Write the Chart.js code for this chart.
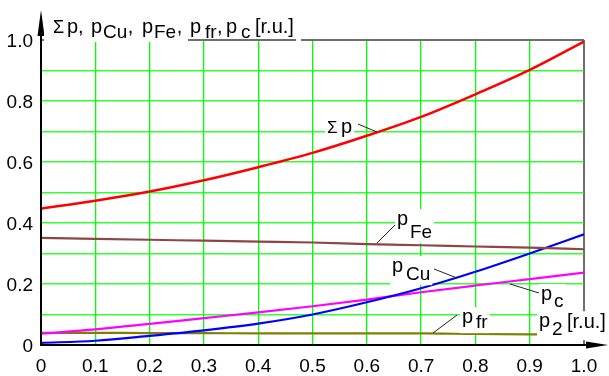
<!DOCTYPE html>
<html>
<head>
<meta charset="utf-8">
<script src="https://cdn.jsdelivr.net/npm/chart.js@4/dist/chart.umd.min.js"></script>
<style>
  html, body { margin: 0; padding: 0; background: #fff; }
  canvas { display: block; }
</style>
</head>
<body>
<canvas id="c" width="609" height="376"></canvas>
<script>
// Output power p2 in relative units
const p2 = [0, 0.1, 0.2, 0.3, 0.4, 0.5, 0.6, 0.7, 0.8, 0.9, 1.0];

// Loss components, relative units
const sumP = [0.447, 0.473, 0.503, 0.540, 0.583, 0.630, 0.686, 0.748, 0.822, 0.902, 0.995];
const pFe  = [0.351, 0.348, 0.345, 0.342, 0.339, 0.336, 0.331, 0.327, 0.323, 0.319, 0.314];
const pCu  = [0.007, 0.014, 0.030, 0.048, 0.070, 0.100, 0.140, 0.186, 0.240, 0.300, 0.363];
const pC   = [0.037, 0.051, 0.069, 0.088, 0.107, 0.127, 0.149, 0.173, 0.195, 0.216, 0.237];
const pFr  = [0.040, 0.040, 0.039, 0.039, 0.038, 0.038, 0.038, 0.038, 0.036, 0.035, 0.035];

// Tick labels
const xTickLabels = ['0', '0.1', '0.2', '0.3', '0.4', '0.5', '0.6', '0.7', '0.8', '0.9', '1.0'];
const yTickLabels = ['0', '0.2', '0.4', '0.6', '0.8', '1.0'];

const FONT = '"Liberation Sans", Arial, sans-serif';
const near = (a, b) => Math.abs(a - b) < 1e-6;
const pts = ys => p2.map((x, i) => ({ x, y: ys[i] }));

function series(data, color, width) {
  return {
    data: pts(data),
    borderColor: color,
    borderWidth: width || 2.2,
    pointRadius: 0,
    cubicInterpolationMode: 'monotone',
    fill: false
  };
}

// Draws a run of text pieces; a piece without x follows the previous one.
// With bg set, a white box is laid under the run first.
function rich(ctx, pieces, bg) {
  let cursor = 0, lastY = 0;
  const laid = pieces.map(p => {
    ctx.font = p.size + 'px ' + FONT;
    const w = ctx.measureText(p.s).width;
    const x = p.x !== undefined ? p.x : cursor + 0.5;
    const y = p.y !== undefined ? p.y : lastY;
    cursor = x + w; lastY = y;
    return { s: p.s, x, y, w, size: p.size };
  });
  if (bg) {
    let l = Infinity, r = -Infinity, t = Infinity, b = -Infinity;
    laid.forEach(p => {
      l = Math.min(l, p.x); r = Math.max(r, p.x + p.w);
      t = Math.min(t, p.y - p.size * 0.74); b = Math.max(b, p.y + p.size * 0.22);
    });
    ctx.fillStyle = '#fff';
    ctx.fillRect(l - 2, t - 1, r - l + 4, b - t + 2);
  }
  ctx.fillStyle = '#000';
  ctx.textAlign = 'left';
  ctx.textBaseline = 'alphabetic';
  laid.forEach(p => {
    ctx.font = p.size + 'px ' + FONT;
    ctx.fillText(p.s, p.x, p.y);
  });
}

function leader(ctx, x1, y1, x2, y2) {
  ctx.beginPath();
  ctx.moveTo(x1, y1);
  ctx.lineTo(x2, y2);
  ctx.stroke();
}

const decorations = {
  id: 'decorations',
  afterDatasetsDraw(chart) {
    const { ctx, chartArea: a } = chart;
    ctx.save();

    // axes
    ctx.strokeStyle = '#000';
    ctx.lineWidth = 2;
    ctx.beginPath();
    ctx.moveTo(a.left - 1, a.bottom);
    ctx.lineTo(598, a.bottom);
    ctx.moveTo(a.left, a.bottom + 1);
    ctx.lineTo(a.left, 30);
    ctx.stroke();

    // arrow heads
    ctx.fillStyle = '#000';
    ctx.beginPath();
    ctx.moveTo(608, a.bottom);
    ctx.lineTo(586, a.bottom - 3.5);
    ctx.lineTo(586, a.bottom + 3.5);
    ctx.closePath();
    ctx.fill();
    ctx.beginPath();
    ctx.moveTo(a.left, 10);
    ctx.lineTo(a.left - 3.5, 36);
    ctx.lineTo(a.left + 3.5, 36);
    ctx.closePath();
    ctx.fill();

    // axis title, partly masking the top frame line
    ctx.fillStyle = '#fff';
    ctx.fillRect(44, 12, 144, 30);
    ctx.fillRect(296, 38, 5, 4);
    rich(ctx, [
      { s: 'Σ', x: 53, y: 33, size: 18 },
      { s: 'p,', x: 67, y: 33, size: 20 },
      { s: 'p', x: 91, y: 33, size: 20 },
      { s: 'Cu', x: 103, y: 38, size: 19 },
      { s: ',', y: 33, size: 20 },
      { s: 'p', x: 142, y: 33, size: 20 },
      { s: 'Fe', x: 154, y: 38, size: 19 },
      { s: ',', y: 33, size: 20 },
      { s: 'p', x: 190, y: 33, size: 20 },
      { s: 'fr', x: 205, y: 38, size: 19 },
      { s: ',', y: 33, size: 20 },
      { s: 'p', x: 226, y: 33, size: 20 },
      { s: 'c', x: 241, y: 38, size: 19 },
      { s: '[r.u.]', x: 255, y: 33, size: 20 }
    ], false);

    // curve labels
    rich(ctx, [
      { s: 'Σ', x: 327, y: 133, size: 17 },
      { s: 'p', x: 341, y: 133, size: 20 }
    ], true);
    rich(ctx, [
      { s: 'p', x: 397, y: 225, size: 20 },
      { s: 'Fe', x: 410, y: 238, size: 19 }
    ], true);
    rich(ctx, [
      { s: 'p', x: 392, y: 272, size: 20 },
      { s: 'Cu', x: 406, y: 280, size: 19 }
    ], true);
    rich(ctx, [
      { s: 'p', x: 541, y: 300, size: 20 },
      { s: 'c', x: 554, y: 307, size: 19 }
    ], true);
    rich(ctx, [
      { s: 'p', x: 462, y: 323, size: 20 },
      { s: 'fr', x: 476, y: 328, size: 19 }
    ], true);
    rich(ctx, [
      { s: 'p', x: 539, y: 327, size: 20 },
      { s: '2', x: 552, y: 335, size: 19 },
      { s: '[r.u.]', x: 567, y: 328, size: 20 }
    ], true);

    // leader lines
    ctx.strokeStyle = '#222';
    ctx.lineWidth = 1;
    leader(ctx, 358, 124, 377, 132);
    leader(ctx, 395, 225, 377, 243);
    leader(ctx, 434, 269, 457, 278);
    leader(ctx, 539, 293, 510, 284);
    leader(ctx, 457, 315, 433, 333);

    ctx.restore();
  }
};

new Chart(document.getElementById('c'), {
  type: 'line',
  data: {
    datasets: [
      series(sumP, '#ff0000', 2.5),
      series(pFe, '#8c4646'),
      series(pCu, '#0000ff'),
      series(pC, '#ff00ff'),
      series(pFr, '#808000')
    ]
  },
  options: {
    responsive: false,
    animation: false,
    events: [],
    layout: { padding: { top: 40, right: 25, left: 0, bottom: 0 } },
    plugins: { legend: { display: false }, tooltip: { enabled: false } },
    scales: {
      x: {
        type: 'linear',
        min: 0, max: 1,
        border: { display: false },
        grid: {
          drawTicks: false,
          color: c => near(c.tick.value, 0) ? 'rgba(0,0,0,0)' : near(c.tick.value, 1) ? '#6e6e6e' : '#00ff00',
          lineWidth: c => near(c.tick.value, 1) ? 2 : 1.3
        },
        ticks: {
          stepSize: 0.1,
          autoSkip: false,
          maxRotation: 0,
          padding: 10,
          color: '#000',
          font: { family: FONT, size: 19 },
          callback: v => xTickLabels[Math.round(v * 10)]
        },
        afterFit: s => { s.height = 31; }
      },
      y: {
        min: 0, max: 1,
        border: { display: false },
        grid: {
          drawTicks: false,
          color: c => near(c.tick.value, 0) ? 'rgba(0,0,0,0)' : near(c.tick.value, 1) ? '#6e6e6e' : 'rgba(0,255,0,0.8)',
          lineWidth: c => near(c.tick.value, 1) ? 2 : 1.6
        },
        ticks: {
          stepSize: 0.1,
          autoSkip: false,
          padding: 8,
          labelOffset: 2,
          color: '#000',
          font: { family: FONT, size: 19 },
          callback: v => {
            const i = Math.round(v * 10);
            return i % 2 === 0 ? yTickLabels[i / 2] : '';
          }
        },
        afterFit: s => { s.height = undefined; s.width = 41; }
      }
    }
  },
  plugins: [decorations]
});
</script>
</body>
</html>
